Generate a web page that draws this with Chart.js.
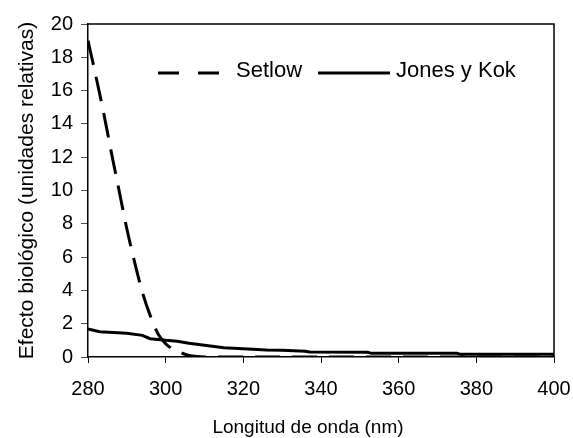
<!DOCTYPE html>
<html>
<head>
<meta charset="utf-8">
<script src="https://cdn.jsdelivr.net/npm/chart.js@4"></script>
<style>
  html, body { margin: 0; padding: 0; background: #ffffff; }
  #wrap { width: 573px; height: 438px; }
</style>
</head>
<body>
<div id="wrap"><canvas id="c" width="573" height="438"></canvas></div>
<script>
// Wavelength (nm) and biological effect (relative units)
const setlowX = [280, 282, 284, 286, 288, 290, 292, 294, 296, 298, 300, 302, 304, 306, 308, 310, 400];
const setlowY = [19.0, 16.9, 14.7, 12.3, 10.0, 7.7, 5.7, 3.9, 2.5, 1.4, 0.8, 0.45, 0.25, 0.1, 0.03, 0, 0];

const jonesX = [280, 283, 290, 294, 296, 300, 303, 306, 310, 315, 320, 326, 330, 336, 337, 352, 353, 375, 376, 400];
const jonesY = [1.68, 1.52, 1.42, 1.30, 1.10, 1.00, 0.95, 0.82, 0.70, 0.55, 0.50, 0.42, 0.40, 0.35, 0.30, 0.28, 0.22, 0.22, 0.16, 0.16];

const seriesNames = ['Setlow', 'Jones y Kok'];
const xTicks = [280, 300, 320, 340, 360, 380, 400];
const yTicks = [0, 2, 4, 6, 8, 10, 12, 14, 16, 18, 20];

const xTitle = 'Longitud de onda (nm)';
const yTitle = 'Efecto biológico (unidades relativas)';

const FONT = "'Liberation Sans', Arial, sans-serif";

function toPoints(xs, ys) { return xs.map((x, i) => ({ x: x, y: ys[i] })); }

const framePlugin = {
  id: 'frame',
  afterDraw(chart) {
    const { ctx, chartArea: a } = chart;
    ctx.save();
    ctx.strokeStyle = '#000';
    ctx.lineWidth = 1.5;
    ctx.beginPath();
    ctx.moveTo(a.left, a.top);
    ctx.lineTo(a.right, a.top);
    ctx.lineTo(a.right, a.bottom);
    ctx.stroke();
    // x-axis title (centred where the original places it)
    ctx.font = '19px ' + FONT;
    ctx.fillStyle = '#000';
    ctx.textAlign = 'center';
    ctx.textBaseline = 'alphabetic';
    ctx.fillText(xTitle, 308, 433);
    ctx.restore();
  }
};

const legendPlugin = {
  id: 'customLegend',
  afterDraw(chart) {
    const { ctx } = chart;
    ctx.save();
    ctx.font = '22px ' + FONT;
    ctx.fillStyle = '#000';
    ctx.textBaseline = 'alphabetic';
    ctx.textAlign = 'left';
    let x = 158;
    const yLine = 73, yText = 77, sample = 72, gap = 6, spacing = 16;
    chart.data.datasets.forEach((ds) => {
      ctx.strokeStyle = '#000';
      ctx.lineWidth = 3;
      ctx.setLineDash(ds.legendDash || []);
      ctx.beginPath();
      ctx.moveTo(x, yLine);
      ctx.lineTo(x + sample, yLine);
      ctx.stroke();
      ctx.setLineDash([]);
      const tx = x + sample + gap;
      ctx.fillText(ds.label, tx, yText);
      x = tx + ctx.measureText(ds.label).width + spacing;
    });
    ctx.restore();
  }
};

new Chart(document.getElementById('c'), {
  type: 'line',
  data: {
    datasets: [
      {
        label: seriesNames[0],
        data: toPoints(setlowX, setlowY),
        borderColor: '#000',
        borderWidth: 3,
        borderDash: [25, 12],
        legendDash: [21, 19],
        pointRadius: 0,
        fill: false,
        cubicInterpolationMode: 'monotone'
      },
      {
        label: seriesNames[1],
        data: toPoints(jonesX, jonesY),
        borderColor: '#000',
        borderWidth: 3,
        pointRadius: 0,
        fill: false,
        tension: 0
      }
    ]
  },
  options: {
    responsive: false,
    animation: false,
    layout: { padding: { top: 24, right: 19, left: 0, bottom: 0 } },
    plugins: { legend: { display: false }, tooltip: { enabled: false } },
    scales: {
      x: {
        type: 'linear',
        min: 280, max: 400,
        afterBuildTicks: (s) => { s.ticks = xTicks.map(v => ({ value: v })); },
        afterFit: (s) => { s.height = 81; s.paddingLeft = 0; s.paddingRight = 0; },
        ticks: { color: '#000', font: { family: FONT, size: 20 }, padding: 14, maxRotation: 0 },
        grid: { display: true, drawOnChartArea: false, drawTicks: true, tickLength: 6, color: '#000', lineWidth: 1 },
        border: { display: true, color: '#000', width: 1.5 },
        title: { display: false, text: xTitle }
      },
      y: {
        min: 0, max: 20,
        afterBuildTicks: (s) => { s.ticks = yTicks.map(v => ({ value: v })); },
        afterFit: (s) => { s.width = 88; s.paddingTop = 0; s.paddingBottom = 0; },
        ticks: { color: '#000', font: { family: FONT, size: 20 }, padding: 8 },
        grid: { display: true, drawOnChartArea: false, drawTicks: true, tickLength: 7, color: '#555', lineWidth: 1 },
        border: { display: true, color: '#000', width: 1.5 },
        title: { display: true, text: yTitle, color: '#000', font: { family: FONT, size: 21 }, padding: { top: 15, bottom: 0 } }
      }
    }
  },
  plugins: [framePlugin, legendPlugin]
});
</script>
</body>
</html>
